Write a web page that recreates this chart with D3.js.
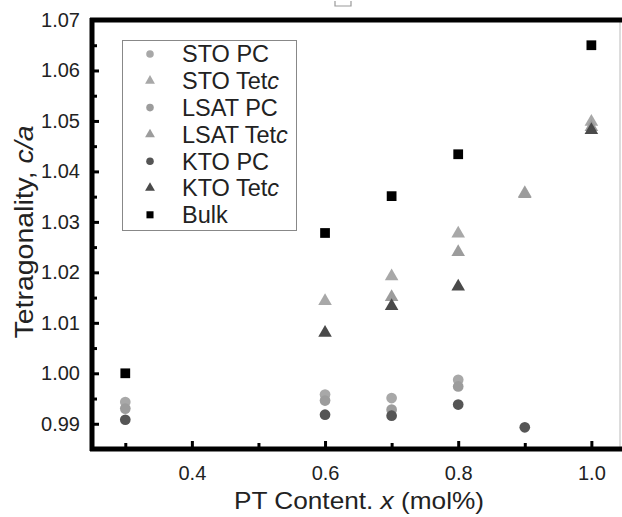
<!DOCTYPE html>
<html>
<head>
<meta charset="utf-8">
<script src="https://cdn.jsdelivr.net/npm/d3@7"></script>
<style>
body { margin: 0; background: #fff; }
text { font-family: "Liberation Sans", Arial, sans-serif; fill: #222; }
</style>
</head>
<body>
<div id="chart"></div>
<script>
var width = 622;
var height = 517;

// values
var stoPC   = [[0.3, 0.9943], [0.6, 0.9958], [0.7, 0.9951], [0.8, 0.9987]];
var stoTet  = [[0.6, 1.0143], [0.7, 1.0192], [0.8, 1.0277], [0.9, 1.0357], [1.0, 1.0498]];
var lsatPC  = [[0.3, 0.9930], [0.6, 0.9946], [0.7, 0.9928], [0.8, 0.9974]];
var lsatTet = [[0.7, 1.0151], [0.8, 1.0240], [0.9, 1.0355], [1.0, 1.0488]];
var ktoPC   = [[0.3, 0.9908], [0.6, 0.9918], [0.7, 0.9916], [0.8, 0.9938], [0.9, 0.9893]];
var ktoTet  = [[0.6, 1.0080], [0.7, 1.0133], [0.8, 1.0172], [1.0, 1.0482]];
var bulk    = [[0.3, 1.0000], [0.6, 1.0278], [0.7, 1.0351], [0.8, 1.0434], [1.0, 1.0650]];

var xTicks = [0.4, 0.6, 0.8, 1.0];
var xMinor = [0.3, 0.5, 0.7, 0.9];
var yTicks = [0.99, 1.00, 1.01, 1.02, 1.03, 1.04, 1.05, 1.06, 1.07];
var yMinor = [0.995, 1.005, 1.015, 1.025, 1.035, 1.045, 1.055, 1.065];

var series = [
    {name: "STO PC",   tet: false, data: stoPC,   shape: "circle",   color: "#a8a8a8"},
    {name: "STO Tet",  tet: true,  data: stoTet,  shape: "triangle", color: "#a8a8a8"},
    {name: "LSAT PC",  tet: false, data: lsatPC,  shape: "circle",   color: "#9c9c9c"},
    {name: "LSAT Tet", tet: true,  data: lsatTet, shape: "triangle", color: "#9c9c9c"},
    {name: "KTO PC",   tet: false, data: ktoPC,   shape: "circle",   color: "#555555"},
    {name: "KTO Tet",  tet: true,  data: ktoTet,  shape: "triangle", color: "#4a4a4a"},
    {name: "Bulk",     tet: false, data: bulk,    shape: "square",   color: "#000000"}
];

var svg = d3.select("#chart").append("svg")
    .attr("width", width)
    .attr("height", height);

var x = d3.scaleLinear().domain([0.25, 1.043]).range([92, 620]);
var y = d3.scaleLinear().domain([0.985, 1.07]).range([449, 20]);

function symbolFor(shape, big) {
    if (shape == "circle") return d3.symbol().type(d3.symbolCircle).size(big ? 90 : 45)();
    if (shape == "triangle") return d3.symbol().type(d3.symbolTriangle).size(big ? 80 : 42)();
    return d3.symbol().type(d3.symbolSquare).size(big ? 95 : 50)();
}

// frame: thin right edge, thick top/left/bottom
svg.append("line").attr("x1", 620).attr("x2", 620).attr("y1", 20).attr("y2", 449)
    .attr("stroke", "#bbb").attr("stroke-width", 1);

// little mark above the frame
svg.append("path").attr("d", "M335,1 L335,6 L351,6 L351,1")
    .attr("fill", "none").attr("stroke", "#999").attr("stroke-width", 1.2);

// points
series.forEach(function(s) {
    svg.append("g").selectAll("path")
        .data(s.data)
        .enter().append("path")
        .attr("d", symbolFor(s.shape, true))
        .attr("transform", function(d) { return "translate(" + x(d[0]) + "," + y(d[1]) + ")"; })
        .attr("fill", s.color);
});

// y axis
var yAxis = svg.append("g").attr("transform", "translate(92,0)")
    .call(d3.axisLeft(y).tickValues(yTicks).tickSize(-7).tickPadding(12)
        .tickFormat(d3.format(".2f")));
yAxis.select(".domain").remove();
yAxis.selectAll(".tick line").attr("stroke", "#000").attr("stroke-width", 3);
yAxis.selectAll(".tick text").attr("font-size", 20).attr("fill", "#222")
    .attr("font-family", "Liberation Sans, Arial, sans-serif");

var yMin = svg.append("g").attr("transform", "translate(92,0)")
    .call(d3.axisLeft(y).tickValues(yMinor).tickSize(-5).tickFormat(""));
yMin.select(".domain").remove();
yMin.selectAll(".tick line").attr("stroke", "#000").attr("stroke-width", 3);

// x axis
var xAxis = svg.append("g").attr("transform", "translate(0,449)")
    .call(d3.axisBottom(x).tickValues(xTicks).tickSize(-8).tickPadding(17)
        .tickFormat(d3.format(".1f")));
xAxis.select(".domain").remove();
xAxis.selectAll(".tick line").attr("stroke", "#000").attr("stroke-width", 3);
xAxis.selectAll(".tick text").attr("font-size", 20).attr("fill", "#222")
    .attr("font-family", "Liberation Sans, Arial, sans-serif");

var xMin = svg.append("g").attr("transform", "translate(0,449)")
    .call(d3.axisBottom(x).tickValues(xMinor).tickSize(-6).tickFormat(""));
xMin.select(".domain").remove();
xMin.selectAll(".tick line").attr("stroke", "#000").attr("stroke-width", 3);

// spines
svg.append("line").attr("x1", 90).attr("x2", 622).attr("y1", 20).attr("y2", 20)
    .attr("stroke", "#000").attr("stroke-width", 5);
svg.append("line").attr("x1", 92).attr("x2", 92).attr("y1", 18).attr("y2", 451)
    .attr("stroke", "#000").attr("stroke-width", 5);
svg.append("line").attr("x1", 90).attr("x2", 622).attr("y1", 449).attr("y2", 449)
    .attr("stroke", "#000").attr("stroke-width", 5);

// axis titles
var xt = svg.append("text")
    .attr("x", 359).attr("y", 509)
    .attr("text-anchor", "middle")
    .attr("font-size", 24)
    .attr("textLength", 250)
    .attr("lengthAdjust", "spacingAndGlyphs");
xt.append("tspan").text("PT Content. ");
xt.append("tspan").attr("font-style", "italic").text("x");
xt.append("tspan").text(" (mol%)");

var yt = svg.append("text")
    .attr("transform", "translate(33,232) rotate(-90)")
    .attr("text-anchor", "middle")
    .attr("font-size", 26)
    .attr("textLength", 213)
    .attr("lengthAdjust", "spacingAndGlyphs");
yt.append("tspan").text("Tetragonality, ");
yt.append("tspan").attr("font-style", "italic").text("c/a");

// legend
var legend = svg.append("g").attr("class", "legend");
legend.append("rect")
    .attr("x", 122.5).attr("y", 40.5).attr("width", 174).attr("height", 190)
    .attr("fill", "#fff").attr("stroke", "#888").attr("stroke-width", 1);

var rows = legend.selectAll("g.row")
    .data(series)
    .enter().append("g")
    .attr("class", "row")
    .attr("transform", function(d, i) { return "translate(0," + (54 + i * 26.8) + ")"; });

rows.append("path")
    .attr("d", function(d) { return symbolFor(d.shape, false); })
    .attr("transform", "translate(150,0)")
    .attr("fill", function(d) { return d.color; });

var labels = rows.append("text")
    .attr("x", 182).attr("y", 0).attr("dy", "0.36em")
    .attr("font-size", 23.5);
labels.append("tspan").text(function(d) { return d.name; });
labels.filter(function(d) { return d.tet; })
    .append("tspan").attr("font-style", "italic").text("c");
</script>
</body>
</html>
